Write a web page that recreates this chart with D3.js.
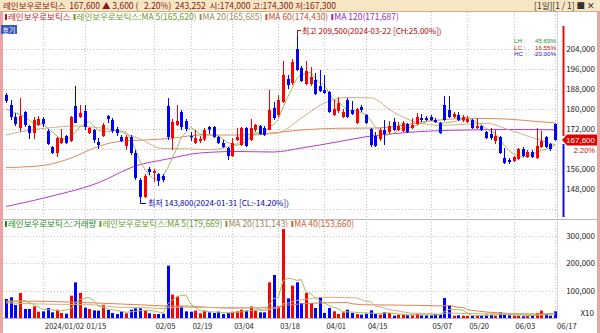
<!DOCTYPE html>
<meta charset="utf-8">
<style>
body { margin: 0; background: #fff; }
svg { display: block; font-family: "Noto Sans CJK KR", "Noto Sans", sans-serif; }
.grid line { stroke: #c4c4c4; stroke-dasharray: 1,2; shape-rendering: crispEdges; }
.ax text { font-size: 8px; fill: #222; }
</style>
<script src="https://d3js.org/d3.v7.min.js"></script>
<svg id="chart" width="600" height="333"></svg>
<script>
// trading days shown (Dec 2023 .. Jun 2024)
var tradingDays = [
  ["2023-12", [18,19,20,21,22,26,27,28]],
  ["2024-01", [2,3,4,5,8,9,10,11,12,15,16,17,18,19,22,23,24,25,26,29,30,31]],
  ["2024-02", [1,2,5,6,7,8,13,14,15,16,19,20,21,22,23,26,27,28,29]],
  ["2024-03", [4,5,6,7,8,11,12,13,14,15,18,19,20,21,22,25,26,27,28,29]],
  ["2024-04", [1,2,3,4,5,8,9,11,12,15,16,17,18,19,22,23,24,25,26,29,30]],
  ["2024-05", [2,3,7,8,9,10,13,14,16,17,20,21,22,23,24,27,28,29,30,31]],
  ["2024-06", [3,4,5,7,10,11,12,13,14,17]]
];
var dates = [];
tradingDays.forEach(function(m) {
  m[1].forEach(function(d) { dates.push(m[0] + "-" + (d < 10 ? "0" + d : d)); });
});

var open = [185600,181600,176800,172400,178800,173200,170400,173600,176000,171200,
  164800,162400,166400,169200,167200,181200,176800,179200,170400,171600,
  166800,169200,177200,175600,172000,168800,165200,168800,162400,151600,
  144800,156000,154400,154000,153200,181200,168400,173600,178800,175200,
  169200,166400,167200,167800,172800,172800,168800,166400,164400,161200,
  167600,165600,172400,167600,171600,173200,172400,171600,180400,177600,
  182800,192000,190400,204000,196400,190000,190000,191600,189200,187600,
  186800,177600,179200,176800,183600,179600,174400,180800,177600,172000,
  169200,168000,171600,170800,174800,171600,171200,174000,172400,174000,
  176400,176400,176800,175600,174400,181600,179600,176800,177600,175400,
  174800,175600,172400,173200,170800,170000,167200,168800,160400,159600,
  159200,160000,164000,160800,162800,160400,164800,168800,166000,174000];
var high = [186400,183600,178400,184400,179200,173600,176800,177200,176800,172000,
  165200,168800,172000,169600,177200,189200,181600,181600,172800,172000,
  168400,174400,177600,176400,172800,169600,169600,169600,163600,152400,
  154000,156800,156000,154400,154000,184400,176000,181600,179600,176000,
  170800,171600,169200,172400,173200,173200,169200,167600,164800,168400,
  172400,172800,172800,176000,174000,173600,173200,187600,182800,185600,
  199200,193600,200000,209500,197200,199200,196800,194400,195600,193600,
  187200,183600,184800,180000,184400,183200,180400,181600,178000,172400,
  170800,172400,175600,175200,176400,174800,175200,174400,176400,178400,
  178000,177200,177600,176400,174800,185200,185200,178800,178800,177600,
  177200,176000,176400,173600,171200,172400,171600,169200,164400,160400,
  161200,164400,164800,163600,163600,172400,171200,169200,166400,174300];
var low = [182400,175600,173200,170900,172800,168000,168000,173200,172800,165600,
  162000,160800,166000,166000,166800,174400,176400,171600,170000,166400,
  164000,168800,174400,170400,169200,166800,163600,161600,151600,143800,
  144400,153600,150800,149200,150800,167600,163600,173200,171600,171200,
  167200,166000,166400,167200,170000,168400,166000,164400,159600,160800,
  167200,165200,164800,167200,170800,169600,169200,171600,175600,176800,
  182400,188000,189600,195200,190800,189600,189200,185600,186800,186000,
  178400,177200,178400,176400,176400,177600,174000,178800,174000,164800,
  164800,167200,165600,170000,171200,171200,170800,170400,172000,173600,
  174800,175200,175200,174400,170000,175200,176400,176400,175200,174800,
  174400,172000,172000,171200,168000,167600,166000,162000,158000,158000,
  158800,159600,160800,160400,160400,160000,164400,164400,163200,167300];
var close = [183200,176800,174000,177200,173600,170400,175600,176000,174000,166000,
  162400,168400,168400,166400,176800,174400,178400,172800,172400,167600,
  165600,173600,176000,171200,170400,167200,168800,162400,152400,144800,
  153200,154800,155200,151200,151600,168800,174800,175200,172800,172000,
  168600,168400,168000,171600,171800,168800,166400,164800,161200,166400,
  168800,172400,165200,172400,173600,170000,169600,179600,176400,183600,
  193600,189600,198800,195600,191200,195200,192800,186000,187200,186400,
  178800,180000,182400,178800,176800,178000,180000,179600,174400,165600,
  165200,171600,170000,173200,171600,173200,174400,170800,173600,176800,
  175600,175600,175600,174800,170400,175600,176800,178000,175600,176800,
  176000,172400,173200,171600,168400,168400,169200,162400,158400,158800,
  160800,164000,161200,162800,160800,165200,167200,164800,164000,167600];
// volume, in units of 10 shares (axis says X10)
var volume = [69100,75100,47300,90900,32700,32700,42400,23000,24200,36400,
  20600,30300,18200,15800,81200,129700,90900,37600,32700,27900,
  26700,48500,29100,18200,14500,24200,17000,30300,35100,35100,
  26700,17000,14500,14500,15800,190300,84800,77600,42400,24200,
  23000,26700,17000,26700,20600,18200,23000,14500,18200,23000,
  24200,30300,26700,42400,26700,20600,20600,129700,156300,42400,
  323600,71500,117600,129700,54500,90900,54500,36400,76400,18200,
  36400,24200,14500,20600,30300,18200,14500,12100,15800,27900,
  14500,12100,20600,18200,8500,12100,12100,9700,9700,15800,
  9700,9700,9700,14500,12100,72700,46100,8500,9700,8500,
  7300,8500,8500,9700,12100,12100,8500,20600,12100,9700,
  8500,8500,6100,8500,8500,18200,26700,14500,8500,24325];

// moving averages: [day index, value]
var ma5 = [[0,180000],[2,178500],[4,177000],[6,174200],[8,173900],[10,170800],[12,167800],[14,168500],
  [16,172900],[18,175000],[20,171400],[22,171000],[24,171400],[26,170700],[27,168000],[28,164200],
  [29,159100],[30,156300],[31,153500],[32,152100],[33,151800],[34,153200],[35,156300],[36,160300],
  [37,164300],[38,168600],[40,172700],[42,170000],[44,169700],[46,169300],[48,166600],[50,165500],
  [52,166800],[54,170500],[56,170200],[57,173000],[58,173800],[59,175800],[60,180600],[61,184600],
  [62,188400],[63,192200],[64,193800],[65,194100],[66,194700],[67,192200],[68,190500],[69,189500],
  [70,186200],[71,183700],[72,183000],[74,179400],[76,179200],[78,177800],[79,175500],[80,173000],
  [81,171300],[82,169400],[84,170300],[86,172500],[88,172700],[90,174200],[92,175400],[94,174400],
  [96,174600],[98,175300],[100,176600],[102,174800],[104,172300],[106,170200],[107,168000],[108,165400],
  [109,163400],[110,161900],[112,160600],[114,161900],[116,163400],[118,164400],[119,165620]];
var ma20 = [[0,169600],[5,171500],[10,172600],[15,173200],[19,172700],[24,171300],[29,168000],[34,164200],
  [39,164100],[44,163700],[49,165300],[54,169600],[59,170400],[64,176400],[69,182400],[74,184600],
  [79,184500],[84,178700],[89,174700],[94,173500],[99,173800],[104,174300],[109,171700],[114,168600],[119,165685]];
var ma60 = [[0,156600],[7,157200],[14,160300],[19,164300],[24,166900],[30,167600],[36,168300],[42,169600],
  [50,169600],[57,170300],[64,171600],[72,172300],[80,172400],[85,173200],[90,174800],[95,175800],
  [100,176300],[105,176200],[110,175800],[115,175000],[119,174430]];
var ma120 = [[0,141000],[10,145200],[20,150500],[28,157200],[35,160000],[42,162400],[50,163000],
  [58,162800],[64,164400],[72,166900],[78,168900],[85,170300],[92,171200],[100,171600],[110,171800],[119,171687]];

var vma5 = [[0,58000],[2,60000],[4,63000],[6,49200],[8,31000],[10,29300],[12,25900],[14,33200],[15,55000],
  [16,67200],[17,71000],[18,74400],[19,63800],[20,43200],[22,33000],[24,27400],[26,20600],[28,24200],
  [30,28800],[32,25700],[34,17700],[35,50400],[36,64000],[37,76600],[38,82200],[39,83900],[40,50400],
  [41,38800],[42,26700],[44,22800],[46,21100],[48,18900],[50,20600],[52,24500],[54,30100],[56,27400],
  [57,48000],[58,70800],[59,73900],[60,134500],[61,144700],[62,142300],[63,137000],[64,139400],[65,92800],
  [66,89400],[67,73200],[68,62500],[69,55300],[70,44400],[71,38300],[72,33900],[73,22800],[75,21600],
  [77,19100],[79,17700],[81,16500],[83,18700],[85,14300],[87,12100],[89,11900],[91,10900],[93,11900],
  [94,11100],[95,23700],[96,31000],[97,30800],[98,29800],[99,29100],[100,16000],[101,8500],[103,8500],
  [105,10200],[107,12600],[109,12600],[111,11900],[113,8300],[115,10000],[117,15300],[118,15300],[119,17967]];
var vma20 = [[0,55000],[5,52000],[10,50000],[15,49000],[19,47900],[24,39000],[29,38200],[34,34300],[35,37300],
  [37,39000],[39,39300],[44,38200],[49,35900],[54,39000],[55,30500],[56,27300],[57,29900],[58,35600],
  [59,36500],[60,51600],[61,53800],[62,58800],[63,64000],[64,65700],[66,70900],[68,74900],[70,75300],
  [75,73300],[76,73000],[77,67100],[78,60100],[79,59400],[80,43900],[81,41000],[82,36100],[83,30500],
  [84,28200],[86,22200],[88,17500],[89,17400],[94,13900],[95,16600],[96,18200],[99,16700],[104,15300],
  [109,15500],[114,14700],[115,12000],[116,11000],[119,13114]];
var vma40 = [[0,62000],[10,60000],[19,55000],[29,48000],[34,44000],[39,43600],[44,38600],[49,37100],
  [54,36700],[59,37900],[60,45400],[62,48100],[64,51900],[69,55300],[74,56200],[75,51900],[77,48500],
  [79,48000],[84,47000],[89,46000],[94,43700],[96,45600],[97,42600],[98,38900],[99,38100],[100,30200],
  [102,25800],[104,21800],[109,16500],[114,14300],[119,15366]];

var priceGrid = [140000,148000,156000,164000,172000,180000,188000,196000,204000];
var priceLabels = [148000,156000,172000,180000,188000,196000,204000];
var volTicks = [100000,200000,300000];
var tickDates = ["2024-01-02","2024-01-15","2024-02-05","2024-02-19","2024-03-04","2024-03-18",
  "2024-04-01","2024-04-15","2024-05-07","2024-05-20","2024-06-03","2024-06-17"];
var tickLabels = ["2024/01/02","01/15","02/05","02/19","03/04","03/18","04/01","04/15","05/07","05/20","06/03","06/17"];

var UP = "#ff0000", DOWN = "#0000ff";
var svg = d3.select("#chart");

var x = d3.scalePoint().domain(dates).range([6.1, 555.1]);
var yP = d3.scaleLinear().domain([140000, 212000]).range([209, 29]);
var yV = d3.scaleLinear().domain([0, 300000]).range([318, 235.5]);
function xi(i) { return x(dates[i]); }

// frame
svg.append("rect").attr("width", 600).attr("height", 333).attr("fill", "#fff");
svg.append("rect").attr("width", 600).attr("height", 11).attr("fill", "#f6e6c4");
svg.append("line").attr("x1", 0).attr("x2", 600).attr("y1", 11.5).attr("y2", 11.5).attr("stroke", "#c9b48c");
svg.append("rect").attr("x", 0).attr("y", 12).attr("width", 3).attr("height", 321).attr("fill", "#eaa4a4");
svg.append("rect").attr("x", 597).attr("y", 12).attr("width", 3).attr("height", 321).attr("fill", "#eaa4a4");
svg.append("line").attr("x1", 3).attr("x2", 597).attr("y1", 219.5).attr("y2", 219.5).attr("stroke", "#b8b8b8");
svg.append("line").attr("x1", 557.5).attr("x2", 557.5).attr("y1", 12).attr("y2", 318).attr("stroke", "#d8d8d8");
svg.append("line").attr("x1", 3).attr("x2", 557).attr("y1", 318.5).attr("y2", 318.5).attr("stroke", "#b8b8b8");

// grid
var grid = svg.append("g").attr("class", "grid");
grid.selectAll(".hp").data(priceGrid).enter().append("line")
  .attr("x1", 3).attr("x2", 557).attr("y1", function(d) { return Math.round(yP(d)) + 0.5; })
  .attr("y2", function(d) { return Math.round(yP(d)) + 0.5; });
grid.selectAll(".hv").data(volTicks).enter().append("line")
  .attr("x1", 3).attr("x2", 557).attr("y1", function(d) { return Math.round(yV(d)) + 0.5; })
  .attr("y2", function(d) { return Math.round(yV(d)) + 0.5; });
grid.selectAll(".vd").data(tickDates).enter().append("line")
  .attr("x1", function(d) { return Math.round(x(d)) + 0.5; })
  .attr("x2", function(d) { return Math.round(x(d)) + 0.5; })
  .attr("y1", 12).attr("y2", 318);

// moving average lines
function maLine(g, pts, yS, color, curve) {
  g.append("path").datum(pts)
    .attr("fill", "none").attr("stroke", color).attr("stroke-width", 1)
    .attr("d", d3.line().x(function(d) { return xi(d[0]); }).y(function(d) { return yS(d[1]); }).curve(curve));
}
var maG = svg.append("g");
maLine(maG, ma120, yP, "#b43cc8", d3.curveMonotoneX);
maLine(maG, ma60, yP, "#dc8a5a", d3.curveMonotoneX);
maLine(maG, ma20, yP, "#cdb08a", d3.curveMonotoneX);
maLine(maG, ma5, yP, "#a7b767", d3.curveLinear);

// candles
var idx = d3.range(dates.length);
function col(i) { return close[i] >= open[i] ? UP : DOWN; }
var cg = svg.append("g");
cg.selectAll(".wick").data(idx).enter().append("line")
  .attr("x1", function(i) { return Math.round(xi(i)) + 0.5; })
  .attr("x2", function(i) { return Math.round(xi(i)) + 0.5; })
  .attr("y1", function(i) { return yP(high[i]); })
  .attr("y2", function(i) { return yP(low[i]); })
  .attr("stroke", col);
cg.selectAll(".body").data(idx).enter().append("rect")
  .attr("x", function(i) { return Math.round(xi(i)) - 1; })
  .attr("width", 3)
  .attr("y", function(i) { return yP(Math.max(open[i], close[i])); })
  .attr("height", function(i) { return Math.max(1, Math.abs(yP(open[i]) - yP(close[i]))); })
  .attr("fill", col);

// volume
var vg = svg.append("g");
vg.selectAll("rect").data(idx).enter().append("rect")
  .attr("x", function(i) { return Math.round(xi(i)) - 1; })
  .attr("width", 3)
  .attr("y", function(i) { return yV(volume[i]); })
  .attr("height", function(i) { return yV(0) - yV(volume[i]); })
  .attr("fill", col);
maLine(vg, vma40, yV, "#e08250", d3.curveLinear);
maLine(vg, vma20, yV, "#cdb08a", d3.curveLinear);
maLine(vg, vma5, yV, "#a7bd55", d3.curveLinear);

// right axis
var ax = svg.append("g").attr("class", "ax");
ax.selectAll(".pl").data(priceLabels).enter().append("text")
  .attr("x", 595).attr("y", function(d) { return yP(d) + 3; })
  .attr("text-anchor", "end").text(d3.format(","));
ax.selectAll(".vl").data(volTicks).enter().append("text")
  .attr("x", 595).attr("y", function(d) { return yV(d) + 3; })
  .attr("text-anchor", "end").text(d3.format(","));
ax.append("text").attr("x", 594).attr("y", 316).attr("text-anchor", "end").text("X10");
ax.selectAll(".dl").data(tickDates).enter().append("text")
  .attr("x", function(d) { return x(d) + 2; }).attr("y", 329)
  .attr("font-size", 7.5).style("font-size", "7.5px")
  .text(function(d, i) { return tickLabels[i]; });

// current price marker
var last = close.length - 1;
var py = yP(close[last]);
svg.append("line").attr("x1", 563.5).attr("x2", 563.5).attr("y1", 26).attr("y2", py - 4).attr("stroke", "#e01010").attr("stroke-width", 2);
svg.append("line").attr("x1", 563.5).attr("x2", 563.5).attr("y1", py + 4).attr("y2", 217).attr("stroke", "#1010e0").attr("stroke-width", 2);
svg.append("path").attr("fill", "#e00000")
  .attr("d", "M562," + py + "L567," + (py - 5.5) + "H597V" + (py + 5.5) + "H567Z");
svg.append("text").attr("x", 595).attr("y", py + 3).attr("text-anchor", "end")
  .style("font-family", "'Liberation Sans', sans-serif")
  .attr("font-size", 8).attr("fill", "#fff").text(d3.format(",")(close[last]));
svg.append("text").attr("x", 595).attr("y", py + 13).attr("text-anchor", "end")
  .style("font-family", "'Liberation Sans', sans-serif")
  .attr("font-size", 7.5).attr("fill", "#e00000").text("2.20%");

// high / low annotations
var hiI = high.indexOf(d3.max(high)), loI = low.indexOf(d3.min(low));
svg.append("path").attr("fill", "none").attr("stroke", "#c00000")
  .attr("d", "M" + (Math.round(xi(hiI)) + 0.5) + "," + yP(high[hiI]) + "V30.5H301");
svg.append("text").attr("x", 302).attr("y", 34).attr("font-size", 8).attr("fill", "#b00000")
  .text("최고 209,500(2024-03-22 [CH:25.00%])");
svg.append("path").attr("fill", "none").attr("stroke", "#0000c0")
  .attr("d", "M" + (Math.round(xi(loI)) + 0.5) + "," + yP(low[loI]) + "V203.5H146");
svg.append("text").attr("x", 148).attr("y", 206).attr("font-size", 8).attr("fill", "#0000b0")
  .text("최저 143,800(2024-01-31 [CL:-14.20%])");

// LH / LC / HC
var stats = [["LH :", "45.69%", "#2a8a2a"], ["LC :", "16.55%", "#c02020"], ["HC :", "-20.00%", "#2020c0"]];
stats.forEach(function(s, i) {
  var yy = 43 + i * 6.6;
  svg.append("text").attr("x", 514).attr("y", yy).attr("font-size", 6.2)
    .style("font-family", "'Liberation Sans', sans-serif").attr("fill", s[2]).text(s[0]);
  svg.append("text").attr("x", 556).attr("y", yy).attr("font-size", 6.2)
    .style("font-family", "'Liberation Sans', sans-serif").attr("fill", s[2])
    .attr("text-anchor", "end").text(s[1]);
});

// header and legends
svg.append("text").attr("x", 3).attr("y", 9).attr("font-size", 8.5).attr("fill", "#8a1a1a")
  .attr("xml:space", "preserve")
  .text("레인보우로보틱스  167,600 ▲ 3,600 (   2.20%)  243,252  시:174,000 고:174,300 저:167,300");
svg.append("text").attr("x", 595).attr("y", 9).attr("font-size", 8.5).attr("fill", "#333")
  .attr("text-anchor", "end").text("[1일][1 / 1] ■ ✕");

function legend(yy, items) {
  var xx = 5;
  items.forEach(function(it) {
    svg.append("rect").attr("x", xx).attr("y", yy - 6).attr("width", 2).attr("height", 6).attr("fill", it[1]);
    var t = svg.append("text").attr("x", xx + 3).attr("y", yy).attr("font-size", 8.5).attr("fill", it[1]).text(it[0]);
    xx += t.node().getComputedTextLength() + 6;
  });
}
legend(20, [["레인보우로보틱스", "#c01818"], ["레인보우로보틱스:MA 5(165,620)", "#6f9a2a"],
  ["MA 20(165,685)", "#9a8a60"], ["MA 60(174,430)", "#c05030"], ["MA 120(171,687)", "#9a2ab0"]]);
legend(227, [["레인보우로보틱스:거래량", "#1a8a1a"], ["레인보우로보틱스:MA 5(179,669)", "#6f9a2a"],
  ["MA 20(131,143)", "#9a8a60"], ["MA 40(153,660)", "#d06030"]]);

svg.append("rect").attr("x", 1).attr("y", 25).attr("width", 16).attr("height", 9).attr("fill", "#3a5ab8");
svg.append("text").attr("x", 2.5).attr("y", 32.5).attr("font-size", 7).attr("fill", "#fff").text("호기");
</script>
